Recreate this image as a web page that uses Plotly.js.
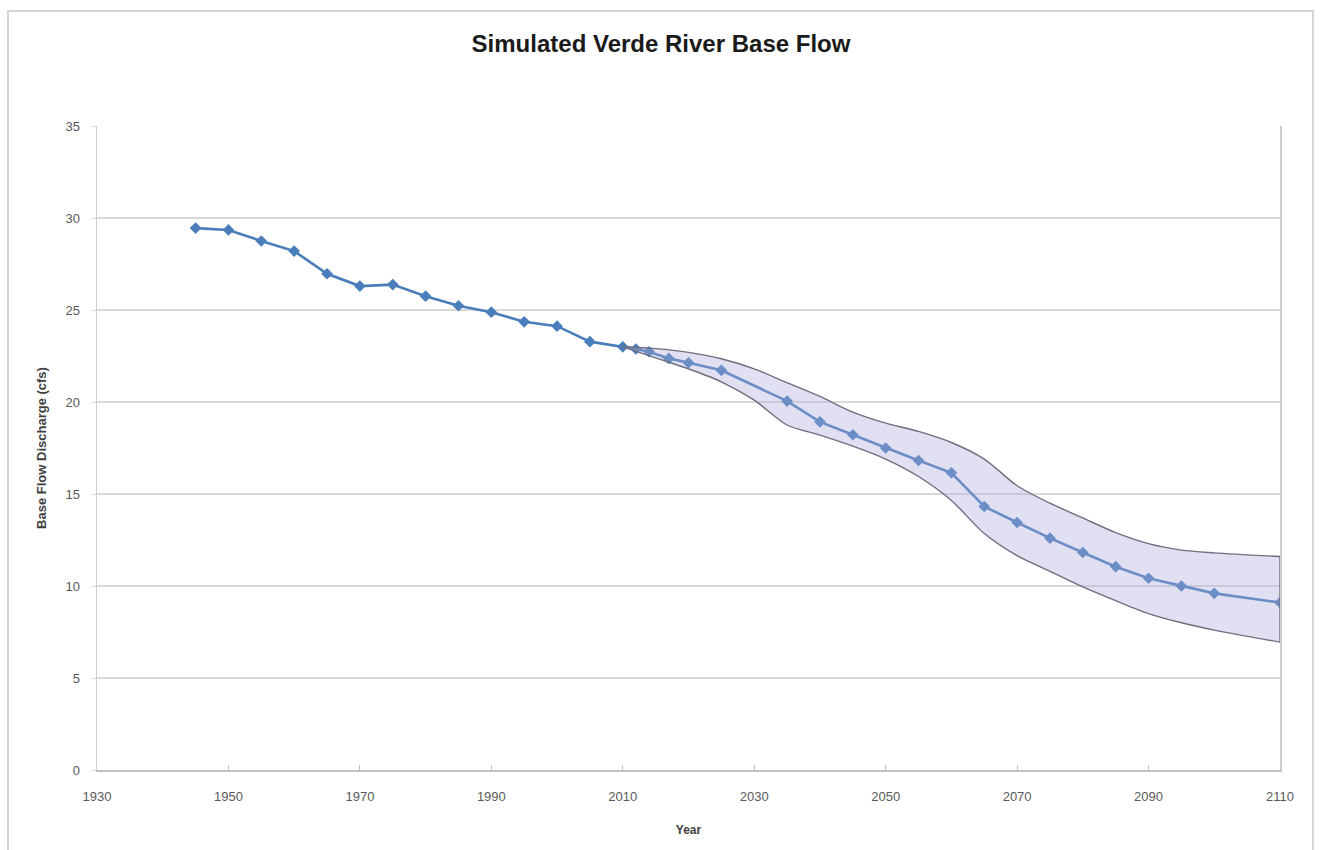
<!DOCTYPE html>
<html>
<head>
<meta charset="utf-8">
<script src="https://cdn.plot.ly/plotly-3.0.1.min.js"></script>
<style>
  html, body { margin: 0; padding: 0; background: #ffffff; }
  #frame { position: absolute; left: 7px; top: 10px; width: 1307px; height: 850px;
           border: 2px solid #d4d4d4; box-sizing: border-box; }
  #chart { position: absolute; left: 0; top: 0; width: 1322px; height: 850px; }
</style>
</head>
<body>
<div id="frame"></div>
<div id="chart"></div>
<script>
// Simulated base flow (cfs), historical and projected
const years = [1945, 1950, 1955, 1960, 1965, 1970, 1975, 1980, 1985, 1990, 1995, 2000, 2005,
               2010, 2012, 2014, 2017, 2020, 2025, 2035, 2040, 2045, 2050, 2055, 2060, 2065,
               2070, 2075, 2080, 2085, 2090, 2095, 2100, 2110];
const baseFlow = [29.45, 29.35, 28.75, 28.2, 26.97, 26.3, 26.38, 25.75, 25.23, 24.88, 24.36, 24.12, 23.28,
                  23.0, 22.88, 22.73, 22.37, 22.13, 21.72, 20.05, 18.92, 18.22, 17.5, 16.82, 16.15, 14.32,
                  13.45, 12.6, 11.82, 11.05, 10.42, 10.0, 9.6, 9.1];

// Uncertainty envelope for the projection period
const bandYears = [2010, 2015, 2020, 2025, 2030, 2035, 2040, 2045, 2050, 2055, 2060, 2065,
                   2070, 2075, 2080, 2085, 2090, 2095, 2100, 2110];
const bandUpper = [23.0, 22.9, 22.7, 22.35, 21.8, 21.05, 20.3, 19.45, 18.85, 18.4, 17.8, 16.9,
                   15.45, 14.5, 13.7, 12.9, 12.3, 11.95, 11.8, 11.6];
const bandLower = [23.0, 22.4, 21.8, 21.1, 20.1, 18.75, 18.2, 17.6, 16.9, 15.95, 14.65, 12.85,
                   11.65, 10.8, 9.95, 9.2, 8.5, 8.0, 7.6, 6.95];

const xTicks = [1930, 1950, 1970, 1990, 2010, 2030, 2050, 2070, 2090, 2110];
const yTicks = [0, 5, 10, 15, 20, 25, 30, 35];

const lineBlue = '#4a7ebb';
const edgeGray = '#6e6e7e';

const traces = [
  {
    x: years, y: baseFlow, type: 'scatter', mode: 'lines+markers',
    line: { color: lineBlue, width: 2.6 },
    marker: { symbol: 'diamond', size: 9, color: lineBlue },
    hoverinfo: 'x+y', showlegend: false
  },
  {
    x: bandYears, y: bandLower, type: 'scatter', mode: 'lines',
    line: { color: edgeGray, width: 1.4, shape: 'spline', smoothing: 0.8 },
    hoverinfo: 'skip', showlegend: false
  },
  {
    x: bandYears, y: bandUpper, type: 'scatter', mode: 'lines',
    line: { color: edgeGray, width: 1.4, shape: 'spline', smoothing: 0.8 },
    fill: 'tonexty', fillcolor: 'rgba(168,168,220,0.36)',
    hoverinfo: 'skip', showlegend: false
  },
  {
    // closing edge of the envelope at the final year
    x: [bandYears[bandYears.length - 1], bandYears[bandYears.length - 1]],
    y: [bandLower[bandLower.length - 1], bandUpper[bandUpper.length - 1]],
    type: 'scatter', mode: 'lines',
    line: { color: edgeGray, width: 1.4 },
    hoverinfo: 'skip', showlegend: false
  }
];

const fam = 'Liberation Sans, Arial, sans-serif';
const axisFont = { family: fam, size: 13, color: '#595959' };

const layout = {
  width: 1322, height: 850,
  margin: { l: 97, r: 42, t: 126, b: 80 },
  paper_bgcolor: 'rgba(0,0,0,0)',
  plot_bgcolor: '#ffffff',
  title: {
    text: '<b>Simulated Verde River Base Flow</b>',
    font: { family: fam, size: 24, color: '#1a1a1a' },
    x: 0.5, xanchor: 'center', y: 0.949, yanchor: 'middle'
  },
  xaxis: {
    range: [1930, 2110],
    tickvals: xTicks, ticktext: xTicks.map(String),
    showgrid: false, zeroline: false,
    showline: true, linecolor: '#bfbfbf', linewidth: 1.5,
    ticks: 'inside', ticklen: 5, tickcolor: '#bfbfbf',
    ticklabelstandoff: 14,
    tickfont: axisFont,
    title: { text: '<b>Year</b>', font: { family: fam, size: 12, color: '#404040' }, standoff: 22 }
  },
  yaxis: {
    range: [0, 35],
    tickvals: yTicks, ticktext: yTicks.map(String),
    showgrid: true, gridcolor: '#d9d9d9', gridwidth: 1.2,
    zeroline: false,
    showline: true, linecolor: '#cfcfcf', linewidth: 1.5, mirror: true,
    ticks: 'outside', ticklen: 5, tickcolor: '#d9d9d9',
    ticklabelstandoff: 8,
    tickfont: axisFont,
    title: { text: '<b>Base Flow Discharge (cfs)</b>', font: { family: fam, size: 13, color: '#404040' }, standoff: 16 }
  }
};

Plotly.newPlot('chart', traces, layout, { displayModeBar: false, staticPlot: true });
</script>
</body>
</html>
